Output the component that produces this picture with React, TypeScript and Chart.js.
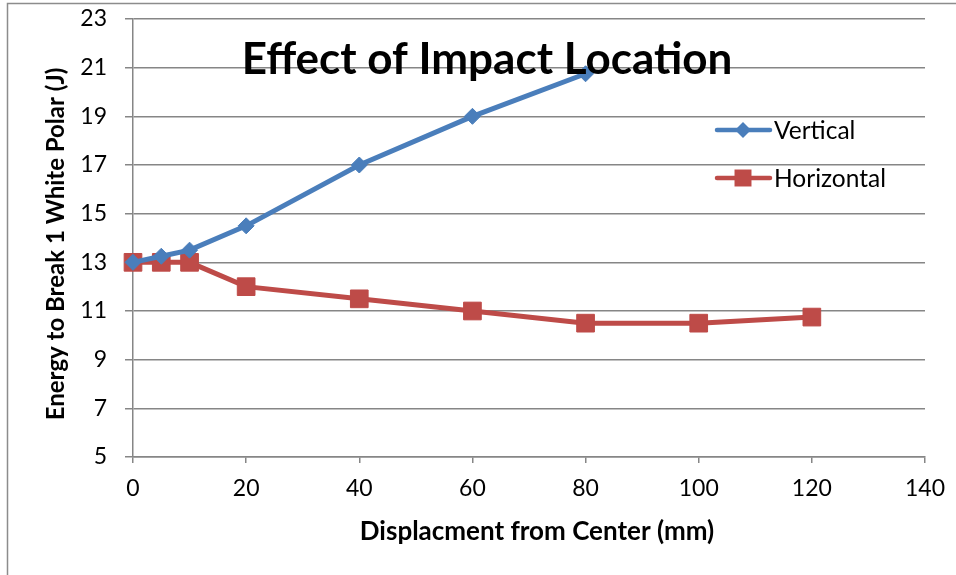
import React, { useEffect, useRef } from "react";
import { Chart, registerables } from "chart.js";

Chart.register(...registerables);

const chartTitle = "Effect of Impact Location";
const xAxisTitle = "Displacment from Center (mm)";
const yAxisTitle = "Energy to Break 1 White Polar (J)";

const verticalLabel = "Vertical";
const verticalX = [0, 5, 10, 20, 40, 60, 80];
const verticalY = [13, 13.25, 13.5, 14.5, 17, 19, 20.75];

const horizontalLabel = "Horizontal";
const horizontalX = [0, 5, 10, 20, 40, 60, 80, 100, 120];
const horizontalY = [13, 13, 13, 12, 11.5, 11, 10.5, 10.5, 10.75];

const xMin = 0;
const xMax = 140;
const xStep = 20;
const yMin = 5;
const yMax = 23;
const yStep = 2;

const BLUE = "#4A7EBB";
const RED = "#BE4B48";
const GRID = "#868686";
const FONT = "Lato, 'Open Sans', sans-serif";

const decorPlugin = {
  id: "decor",
  beforeDraw(chart: any) {
    const ctx = chart.ctx;
    ctx.save();
    ctx.fillStyle = "#ffffff";
    ctx.fillRect(0, 0, chart.width, chart.height);
    ctx.strokeStyle = "#8c8c8c";
    ctx.lineWidth = 1.5;
    ctx.strokeRect(7.5, 3.5, chart.width + 10, chart.height + 10);
    ctx.restore();
  },
  afterDraw(chart: any) {
    const ctx = chart.ctx;
    ctx.save();
    // Title
    ctx.fillStyle = "#000";
    ctx.font = `bold 44px ${FONT}`;
    ctx.textAlign = "center";
    ctx.textBaseline = "alphabetic";
    ctx.fillText(chartTitle, 487, 74);

    // X axis title
    ctx.font = `bold 26px ${FONT}`;
    ctx.textBaseline = "middle";
    ctx.fillText(xAxisTitle, 537, 532);

    // Y axis title
    ctx.save();
    ctx.translate(56, 244);
    ctx.rotate(-Math.PI / 2);
    ctx.font = `bold 24px ${FONT}`;
    ctx.textBaseline = "middle";
    ctx.fillText(yAxisTitle, 0, 0);
    ctx.restore();

    // Legend
    const items = [
      { label: verticalLabel, color: BLUE, style: "rectRot", r: 8, y: 130 },
      { label: horizontalLabel, color: RED, style: "rect", r: 12, y: 178 },
    ];
    items.forEach((it) => {
      ctx.strokeStyle = it.color;
      ctx.lineWidth = 4.5;
      ctx.lineCap = "round";
      ctx.beginPath();
      ctx.moveTo(717, it.y);
      ctx.lineTo(770, it.y);
      ctx.stroke();
      ctx.fillStyle = it.color;
      ctx.beginPath();
      if (it.style === "rect") {
        const s = it.r * Math.SQRT1_2;
        ctx.rect(743 - s, it.y - s, 2 * s, 2 * s);
      } else {
        ctx.moveTo(743 - it.r, it.y);
        ctx.lineTo(743, it.y - it.r);
        ctx.lineTo(743 + it.r, it.y);
        ctx.lineTo(743, it.y + it.r);
        ctx.closePath();
      }
      ctx.fill();
      ctx.fillStyle = "#000";
      ctx.font = `24.5px ${FONT}`;
      ctx.textAlign = "left";
      ctx.textBaseline = "middle";
      ctx.fillText(it.label, 774, it.y + 1);
    });
    ctx.restore();
  },
};

export default function App() {
  const canvasRef = useRef<HTMLCanvasElement | null>(null);

  useEffect(() => {
    if (!canvasRef.current) return;
    const chart = new Chart(canvasRef.current, {
      type: "line",
      data: {
        datasets: [
          {
            label: verticalLabel,
            data: verticalX.map((x, i) => ({ x, y: verticalY[i] })),
            borderColor: BLUE,
            backgroundColor: BLUE,
            borderWidth: 5,
            pointStyle: "rectRot",
            pointRadius: 8,
            pointBorderWidth: 1,
            pointBorderColor: BLUE,
            pointBackgroundColor: BLUE,
            tension: 0,
            clip: false,
          },
          {
            label: horizontalLabel,
            data: horizontalX.map((x, i) => ({ x, y: horizontalY[i] })),
            borderColor: RED,
            backgroundColor: RED,
            borderWidth: 5,
            pointStyle: "rect",
            pointRadius: 12.5,
            pointBorderWidth: 1,
            pointBorderColor: RED,
            pointBackgroundColor: RED,
            tension: 0,
            clip: false,
          },
        ],
      },
      options: {
        animation: false,
        responsive: false,
        devicePixelRatio: 1,
        layout: { padding: { left: 0, right: 31, top: 19, bottom: 0 } },
        plugins: {
          legend: { display: false },
          title: { display: false },
          tooltip: { enabled: false },
        },
        scales: {
          x: {
            type: "linear",
            min: xMin,
            max: xMax,
            afterFit: (s: any) => {
              s.height = 118;
              s.paddingLeft = 0;
              s.paddingRight = 0;
            },
            ticks: {
              stepSize: xStep,
              color: "#000",
              font: { family: FONT, size: 23 },
              padding: 12,
              maxRotation: 0,
            },
            grid: {
              drawOnChartArea: false,
              drawTicks: true,
              tickLength: 6,
              color: GRID,
              lineWidth: 1.5,
            },
            border: { display: true, color: GRID, width: 1.5 },
          },
          y: {
            type: "linear",
            min: yMin,
            max: yMax,
            afterFit: (s: any) => {
              s.width = 133;
              s.paddingTop = 0;
              s.paddingBottom = 0;
            },
            ticks: {
              stepSize: yStep,
              color: "#000",
              font: { family: FONT, size: 23 },
              padding: 18,
            },
            grid: {
              color: GRID,
              lineWidth: 1.5,
              tickLength: 8,
            },
            border: { display: true, color: GRID, width: 1.5 },
          },
        },
      },
      plugins: [decorPlugin],
    });
    return () => chart.destroy();
  }, []);

  return (
    <div style={{ position: "absolute", left: 0, top: 0, width: 956, height: 575 }}>
      <canvas ref={canvasRef} width={956} height={575} style={{ width: 956, height: 575, display: "block" }} />
    </div>
  );
}
